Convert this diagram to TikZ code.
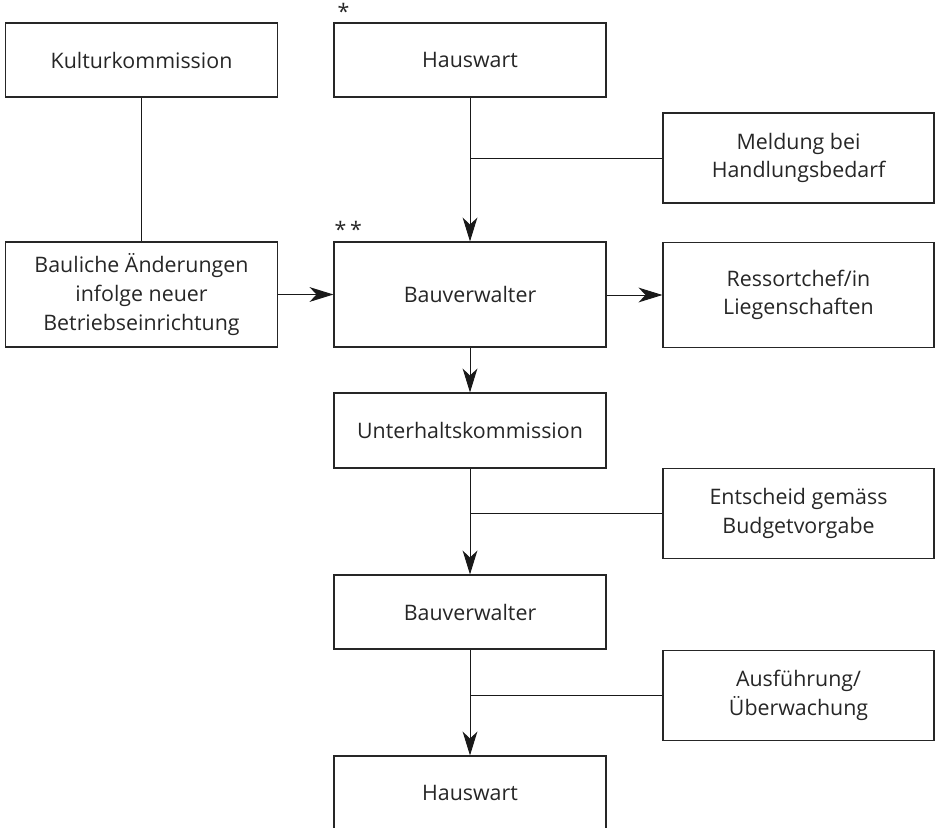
\documentclass[tikz,border=0pt]{standalone}
\usepackage{fontspec}
\setmainfont{Open Sans}
\usepackage{tikz}
\usetikzlibrary{positioning, arrows.meta}

\begin{document}
\begin{tikzpicture}[
    % GLOBAL CFG
    x=0.025cm, y=-0.025cm,
    font=\fontsize{15.2}{20.3}\selectfont,
    >={Stealth[length=17pt, width=10.5pt, inset=5pt]},
    % Styles
    box/.style={% For the boxes
        rectangle,
        draw=black!85,
        line width=0.8pt,
        minimum width=272*0.025cm,
        minimum height=74*0.025cm,
        align=center,
        inner sep=2pt,
        text=black!85,
        },
    tallbox/.style={% For the boxes with two or three lines
        box,
        minimum height=105*0.025cm,
        },
    sidebox/.style={% For the notes on the right
        box,
        minimum width=271*0.025cm,
        minimum height=90*0.025cm,
        },
    star/.style={% For the asterisks
        inner sep=0pt,
        anchor=south west,
        text=black!85,
        },
    ArrowC1/.style={% Plain connectors
        line width=0.7pt,
        draw=black!90,
        },
    ]

    % Page
    \clip (0,0) rectangle (940,828);

    % Draw the left column
    \node [box] (kultur) at (141.5,60) {Kulturkommission};
    \node [tallbox] (bauliche) at (141.5,294.5) {Bauliche Änderungen\\infolge neuer\\Betriebseinrichtung};

    % Draw the main column
    \node [box] (haus1) at (470,60) {Hauswart};
    \node [tallbox] (bauv1) at (470,294.5) {Bauverwalter};
    \node [box, minimum height=75*0.025cm] (unterhalt) at (470,430.5) {Unterhaltskommission};
    \node [box] (bauv2) at (470,612) {Bauverwalter};
    \node [box] (haus2) at (470,793) {Hauswart};

    % Draw the notes on the right
    \node [sidebox] (meldung) at (798.5,158) {Meldung bei\\Handlungsbedarf};
    \node [tallbox, minimum width=271*0.025cm] (ressort) at (798.5,295) {Ressortchef/in\\Liegenschaften};
    \node [sidebox] (entscheid) at (798.5,513.5) {Entscheid gemäss\\Budgetvorgabe};
    \node [sidebox] (ausf) at (798.5,695.5) {Ausführung/\\Überwachung};

    % Asterisks
    \node [star] (star1) at ([xshift=4*0.025cm, yshift=3*0.025cm]haus1.north west) {*};
    \node [star] (star2) at ([xshift=1*0.025cm, yshift=4*0.025cm]bauv1.north west) {*\,*};

    % Start connecting all.
    \draw [ArrowC1] (kultur) -- (bauliche);
    \draw [->, ArrowC1] (bauliche) -- (bauliche -| bauv1.west);
    \draw [->, ArrowC1] (bauv1.east |- ressort) -- (ressort);
    \draw [->, ArrowC1] (haus1) -- (bauv1);
    \draw [->, ArrowC1] (bauv1) -- (unterhalt);
    \draw [->, ArrowC1] (unterhalt) -- (bauv2);
    \draw [->, ArrowC1] (bauv2) -- (haus2);

    % Side notes
    \draw [ArrowC1] (meldung) -- (meldung -| haus1.south);
    \draw [ArrowC1] (entscheid) -- (entscheid -| haus1.south);
    \draw [ArrowC1] (ausf) -- (ausf -| haus1.south);

\end{tikzpicture}
\end{document}
